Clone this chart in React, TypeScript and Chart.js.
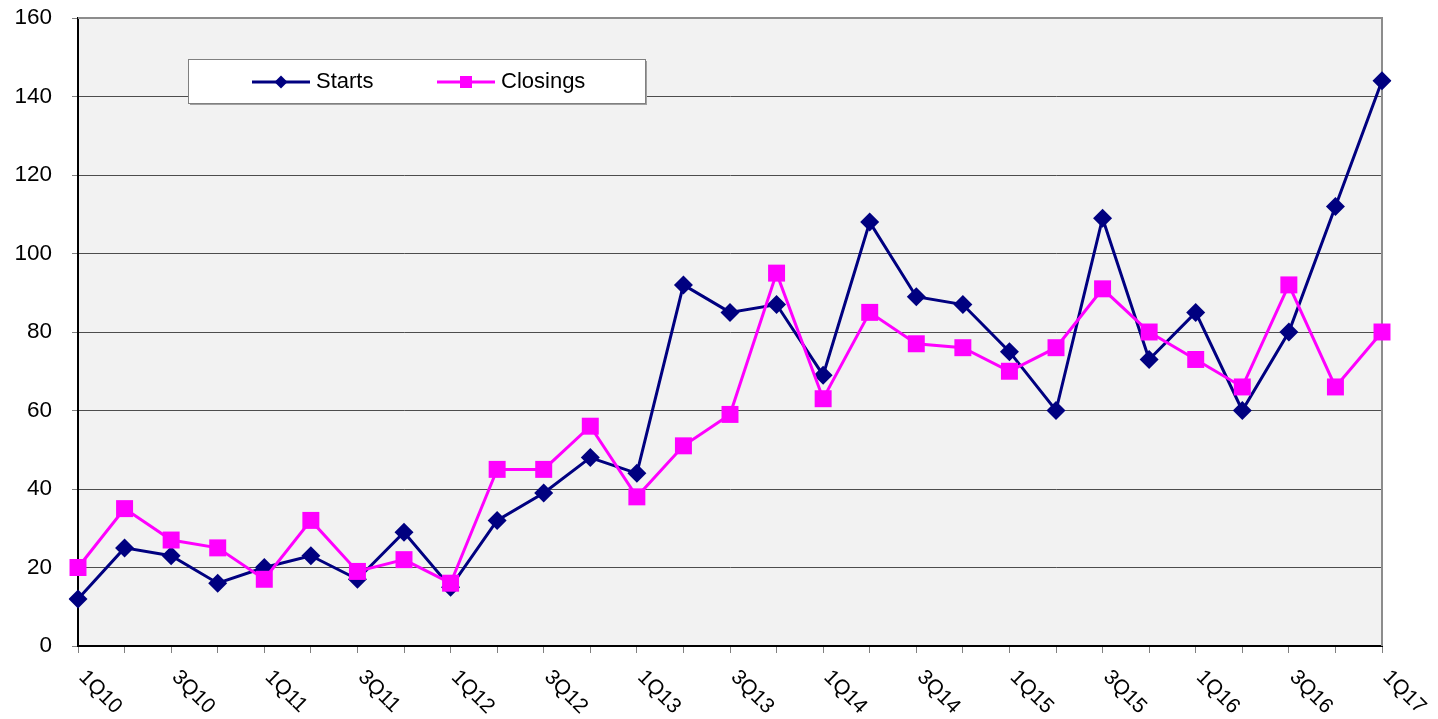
import React, { useEffect, useRef } from 'react';
import { Chart, registerables } from 'chart.js';

Chart.register(...registerables);

const quarters = [
  '1Q10', '2Q10', '3Q10', '4Q10',
  '1Q11', '2Q11', '3Q11', '4Q11',
  '1Q12', '2Q12', '3Q12', '4Q12',
  '1Q13', '2Q13', '3Q13', '4Q13',
  '1Q14', '2Q14', '3Q14', '4Q14',
  '1Q15', '2Q15', '3Q15', '4Q15',
  '1Q16', '2Q16', '3Q16', '4Q16',
  '1Q17',
];

const starts = [
  12, 25, 23, 16,
  20, 23, 17, 29,
  15, 32, 39, 48,
  44, 92, 85, 87,
  69, 108, 89, 87,
  75, 60, 109, 73,
  85, 60, 80, 112,
  144,
];

const closings = [
  20, 35, 27, 25,
  17, 32, 19, 22,
  16, 45, 45, 56,
  38, 51, 59, 95,
  63, 85, 77, 76,
  70, 76, 91, 80,
  73, 66, 92, 66,
  80,
];

const yMin = 0;
const yMax = 160;
const yStep = 20;

const STARTS_COLOR = '#000080';
const CLOSINGS_COLOR = '#ff00ff';
const FONT = '"Liberation Sans", Arial, sans-serif';

const decorPlugin = {
  id: 'decor',
  beforeDraw(chart: any) {
    const { ctx, chartArea: a } = chart;
    ctx.save();
    ctx.fillStyle = '#f2f2f2';
    ctx.fillRect(a.left, a.top, a.right - a.left, a.bottom - a.top);
    ctx.restore();
  },
  beforeDatasetsDraw(chart: any) {
    const { ctx, chartArea: a } = chart;
    ctx.save();
    ctx.strokeStyle = '#8c8c8c';
    ctx.lineWidth = 2;
    ctx.beginPath();
    ctx.moveTo(a.left, a.top);
    ctx.lineTo(a.right, a.top);
    ctx.lineTo(a.right, a.bottom);
    ctx.stroke();
    ctx.restore();
  },
  afterDraw(chart: any) {
    const { ctx, chartArea: a } = chart;
    const xs = chart.scales.x;
    ctx.save();
    ctx.fillStyle = '#000';
    ctx.font = `21px ${FONT}`;
    ctx.textAlign = 'left';
    ctx.textBaseline = 'middle';
    quarters.forEach((q, i) => {
      if (i % 2 !== 0) return;
      const x = xs.getPixelForValue(i);
      ctx.save();
      ctx.translate(x + 4, a.bottom + 28);
      ctx.rotate(Math.PI / 4);
      ctx.fillText(q, 0, 0);
      ctx.restore();
    });
    ctx.restore();

    // legend box
    const bx = 188, by = 59, bw = 457, bh = 44;
    ctx.save();
    ctx.fillStyle = '#a0a0a0';
    ctx.fillRect(bx + 2, by + 2, bw, bh);
    ctx.fillStyle = '#ffffff';
    ctx.fillRect(bx, by, bw, bh);
    ctx.strokeStyle = '#808080';
    ctx.lineWidth = 1;
    ctx.strokeRect(bx + 0.5, by + 0.5, bw, bh);

    const ly = by + 23;
    const items = chart.data.datasets
      .slice()
      .sort((p: any, q: any) => (p.legendIndex ?? 0) - (q.legendIndex ?? 0));
    const starts0 = [252, 437];
    items.forEach((ds: any, k: number) => {
      const x0 = starts0[k];
      ctx.strokeStyle = ds.borderColor;
      ctx.lineWidth = 3;
      ctx.beginPath();
      ctx.moveTo(x0, ly);
      ctx.lineTo(x0 + 58, ly);
      ctx.stroke();
      ctx.fillStyle = ds.borderColor;
      const cx = x0 + 29;
      if (ds.pointStyle === 'rectRot') {
        ctx.beginPath();
        ctx.moveTo(cx, ly - 6.5);
        ctx.lineTo(cx + 6.5, ly);
        ctx.lineTo(cx, ly + 6.5);
        ctx.lineTo(cx - 6.5, ly);
        ctx.closePath();
        ctx.fill();
      } else {
        ctx.fillRect(cx - 6, ly - 6, 12, 12);
      }
      ctx.fillStyle = '#000';
      ctx.font = `22px ${FONT}`;
      ctx.textAlign = 'left';
      ctx.textBaseline = 'middle';
      ctx.fillText(ds.label, x0 + 64, ly);
    });
    ctx.restore();
  },
};

export default function App() {
  const canvasRef = useRef<HTMLCanvasElement | null>(null);

  useEffect(() => {
    if (!canvasRef.current) return;
    const chart = new Chart(canvasRef.current, {
      type: 'line',
      data: {
        labels: quarters,
        datasets: [
          {
            label: 'Starts',
            data: starts,
            borderColor: STARTS_COLOR,
            backgroundColor: STARTS_COLOR,
            borderWidth: 3,
            pointStyle: 'rectRot',
            pointRadius: 9.5,
            pointBorderWidth: 0,
            tension: 0,
            order: 2,
            legendIndex: 0,
          } as any,
          {
            label: 'Closings',
            data: closings,
            borderColor: CLOSINGS_COLOR,
            backgroundColor: CLOSINGS_COLOR,
            borderWidth: 3,
            pointStyle: 'rect',
            pointRadius: 12,
            pointBorderWidth: 0,
            tension: 0,
            order: 1,
            legendIndex: 1,
          } as any,
        ],
      },
      options: {
        animation: false,
        responsive: true,
        maintainAspectRatio: false,
        layout: { padding: { top: 18, right: 56, left: 0, bottom: 0 } },
        plugins: {
          legend: { display: false },
          tooltip: { enabled: false },
        },
        scales: {
          x: {
            type: 'category',
            offset: false,
            afterFit: (s: any) => {
              s.height = 73;
              s.paddingLeft = 0;
              s.paddingRight = 0;
            },
            grid: {
              drawOnChartArea: false,
              drawTicks: true,
              tickLength: 7,
              tickColor: '#808080',
            },
            border: { display: true, color: '#000', width: 2 },
            ticks: { display: false, autoSkip: false },
          },
          y: {
            min: yMin,
            max: yMax,
            afterFit: (s: any) => {
              s.width = 78;
              s.paddingTop = 0;
              s.paddingBottom = 0;
            },
            grid: {
              color: '#4d4d4d',
              lineWidth: 1,
              drawTicks: true,
              tickLength: 6,
              tickColor: '#808080',
            },
            border: { display: true, color: '#000', width: 2 },
            ticks: {
              stepSize: yStep,
              padding: 20,
              color: '#000',
              font: { family: FONT, size: 22.5 },
            },
          },
        },
      },
      plugins: [decorPlugin],
    });
    return () => chart.destroy();
  }, []);

  return (
    <div style={{ position: 'fixed', left: 0, top: 0, width: 1438, height: 719 }}>
      <canvas ref={canvasRef} />
    </div>
  );
}
